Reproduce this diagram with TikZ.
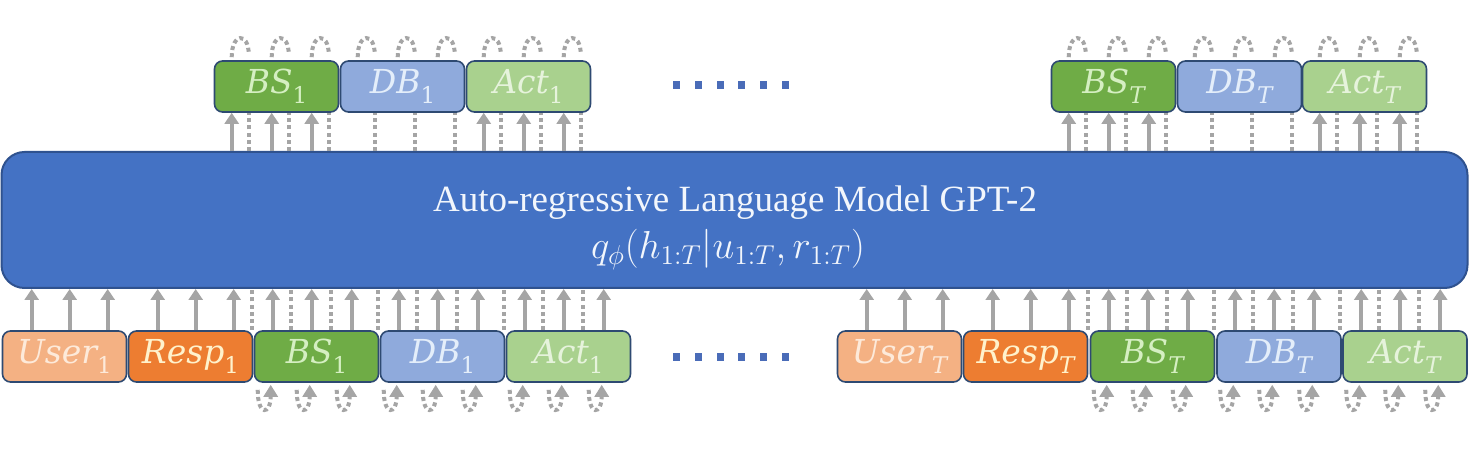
\RequirePackage{fix-cm}
\documentclass[tikz,border=0pt]{standalone}
\usepackage{fontspec}
\setmainfont{Liberation Serif}
\newfontfamily\tokfont{DejaVu Serif}
\usetikzlibrary{arrows.meta,calc}
\newcommand\tlab[2]{\tokfont\itshape #1\raisebox{-0.3em}{\fontsize{11.5}{12}\selectfont #2}}
\definecolor{gptfill}{HTML}{4472C4}
\definecolor{gptedge}{HTML}{2F528F}
\definecolor{gpttext}{HTML}{F2F6FC}
\definecolor{usrfill}{HTML}{F4B183}
\definecolor{usrtext}{HTML}{FDEADA}
\definecolor{respfill}{HTML}{ED7D31}
\definecolor{resptext}{HTML}{FFF2CC}
\definecolor{bsfill}{HTML}{6FAC46}
\definecolor{bstext}{HTML}{D5EFC2}
\definecolor{dbfill}{HTML}{8FAADC}
\definecolor{dbtext}{HTML}{E4EEFA}
\definecolor{actfill}{HTML}{A9D18E}
\definecolor{acttext}{HTML}{E6F3DC}
\definecolor{tokedge}{HTML}{2E4A72}
\definecolor{arr}{HTML}{A5A5A5}
\definecolor{dotblue}{HTML}{4A6CB8}
\begin{document}
\begin{tikzpicture}[x=0.5pt,y=-0.5pt,
  tok/.style={draw=tokedge, line width=0.8pt, rounded corners=4pt,
    minimum width=62pt, minimum height=25.5pt, inner sep=0pt,
    font=\fontsize{16.5}{17}\selectfont},
  usr/.style={tok, fill=usrfill, text=usrtext},
  resp/.style={tok, fill=respfill, text=resptext},
  bs/.style={tok, fill=bsfill, text=bstext},
  db/.style={tok, fill=dbfill, text=dbtext},
  act/.style={tok, fill=actfill, text=acttext},
  bigbox/.style={draw=gptedge, fill=gptfill, line width=1pt, rounded corners=11.5pt,
    minimum width=733pt, minimum height=68pt, inner sep=0pt},
  sarrow/.style={draw=arr, line width=2pt, -{Triangle[width=7pt,length=5.5pt]}},
  dline/.style={draw=arr, line width=2pt, dash pattern=on 2pt off 1.6pt},
  dloop/.style={dline, -{Triangle[width=7pt,length=6pt]}},
  dotsq/.style={fill=dotblue}
]
\useasboundingbox (0,0) rectangle (1470,474);

% big model box
\node[bigbox] (gpt) at (734.5,220) {};
\node[anchor=base, text=gpttext, font=\fontsize{18.5}{20}\selectfont] (title) at (735,212)
  {Auto-regressive Language Model GPT-2};
\node[anchor=base, text=gpttext, font=\fontsize{19.5}{20}\selectfont] (formula) at (728,259)
  {$q_{\phi}(h_{1:T}|u_{1:T},r_{1:T})$};

% bottom row, turn 1
\node[usr]  (u1) at (64.5,356.5)  {\tlab{User}{\upshape 1}};
\node[resp] (r1) at (190.5,356.5) {\tlab{Resp}{\upshape 1}};
\node[bs]   (b1) at (316.5,356.5) {\tlab{BS}{\upshape 1}};
\node[db]   (d1) at (442.5,356.5) {\tlab{DB}{\upshape 1}};
\node[act]  (a1) at (568.5,356.5) {\tlab{Act}{\upshape 1}};
% bottom row, turn T
\node[usr]  (uT) at (899.5,356.5)  {\tlab{User}{T}};
\node[resp] (rT) at (1025.5,356.5) {\tlab{Resp}{T}};
\node[bs]   (bT) at (1152.5,356.5) {\tlab{BS}{T}};
\node[db]   (dT) at (1279,356.5)   {\tlab{DB}{T}};
\node[act]  (aT) at (1405,356.5)   {\tlab{Act}{T}};
% top row
\node[bs]  (tb1) at (276.5,86.5) {\tlab{BS}{\upshape 1}};
\node[db]  (td1) at (402.5,86.5) {\tlab{DB}{\upshape 1}};
\node[act] (ta1) at (528.5,86.5) {\tlab{Act}{\upshape 1}};
\node[bs]  (tbT) at (1113.5,86.5) {\tlab{BS}{T}};
\node[db]  (tdT) at (1239.5,86.5) {\tlab{DB}{T}};
\node[act] (taT) at (1364.5,86.5) {\tlab{Act}{T}};

% ellipsis dots
\foreach \x in {676,698,720,741,763,785}{
  \fill[dotsq] (\x-3.5,81) rectangle (\x+3.5,89);
  \fill[dotsq] (\x-3.5,353) rectangle (\x+3.5,361);
}

% inputs: user and response tokens
\foreach \n in {u1,r1,uT,rT}{
  \foreach \o in {30,68,106}{
    \coordinate (p) at ($(\n.north west)+(\o,0)$);
    \draw[sarrow] (p) -- (p |- gpt.south);
  }
}
% inputs: belief state, database, action tokens (teacher forced)
\foreach \n in {b1,d1,a1,bT,dT,aT}{
  \foreach \o in {19,58,98}{
    \coordinate (p) at ($(\n.north west)+(\o,0)$);
    \coordinate (q) at ($(\n.north west)+(\o-21,0)$);
    \draw[sarrow] (p) -- (p |- gpt.south);
    \draw[dline] (q) -- (q |- gpt.south);
    \coordinate (pb) at ($(\n.south west)+(\o,0)$);
    \draw[dloop] ($(pb)+(-15,7)$) .. controls ($(pb)+(-15,34)$) and ($(pb)+(-2,32)$) .. ($(pb)+(-2,2)$);
  }
}
% outputs
\foreach \n in {tb1,ta1,tbT,taT}{
  \foreach \o in {18,58,98}{
    \coordinate (p) at ($(\n.south west)+(\o,0)$);
    \draw[sarrow] (p |- gpt.north) -- (p);
  }
}
\foreach \n in {tb1,td1,ta1,tbT,tdT,taT}{
  \foreach \o in {18,58,98}{
    \coordinate (q) at ($(\n.south west)+(\o+17,0)$);
    \draw[dline] (q |- gpt.north) -- (q);
    \coordinate (t) at ($(\n.north west)+(\o,0)$);
    \draw[dline] ($(t)+(0,-3)$) .. controls ($(t)+(0,-28)$) and ($(t)+(17,-28)$) .. ($(t)+(17,-6)$);
  }
}
\end{tikzpicture}
\end{document}
